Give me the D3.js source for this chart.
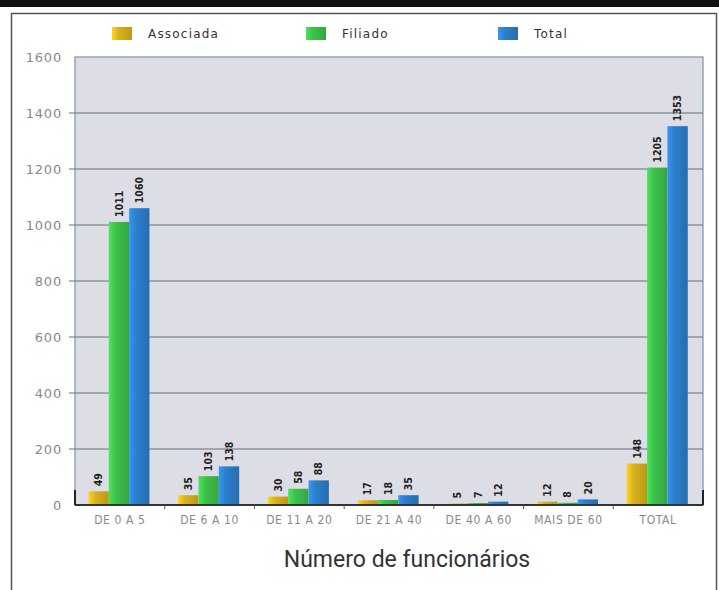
<!DOCTYPE html>
<html>
<head>
<meta charset="utf-8">
<script src="https://cdn.jsdelivr.net/npm/d3@7"></script>
<style>
  body { margin: 0; background: #fff; }
</style>
</head>
<body>
<div id="chart"></div>
<script>
// Data
var categories = ["DE 0 A 5", "DE 6 A 10", "DE 11 A 20", "DE 21 A 40", "DE 40 A 60", "MAIS DE 60", "TOTAL"];
var associada = [49, 35, 30, 17, 5, 12, 148];
var filiado = [1011, 103, 58, 18, 7, 8, 1205];
var total = [1060, 138, 88, 35, 12, 20, 1353];
var seriesNames = ["Associada", "Filiado", "Total"];
var yTicks = [0, 200, 400, 600, 800, 1000, 1200, 1400, 1600];

var seriesValues = [associada, filiado, total];
var colors = ["#d8b11d", "#3dc04b", "#2c7ecb"];

var width = 719, height = 590;
var plot = { left: 75, right: 703, top: 57, bottom: 505 };

var svg = d3.select("#chart")
    .append("svg")
    .attr("width", width)
    .attr("height", height);

// Black strip at the top and the frame round the chart
svg.append("rect").attr("x", 0).attr("y", 0).attr("width", width).attr("height", 7).attr("fill", "#111");
svg.append("path")
    .attr("d", "M11.5," + height + "V13.5H716.5V" + height)
    .attr("fill", "none")
    .attr("stroke", "#555")
    .attr("stroke-width", 1.5);

// Gradients for the slightly rounded bars
var defs = svg.append("defs");
colors.forEach(function(c, i) {
    var g = defs.append("linearGradient").attr("id", "grad" + i).attr("x1", "0%").attr("x2", "100%");
    g.append("stop").attr("offset", "0%").attr("stop-color", d3.color(c).brighter(0.5));
    g.append("stop").attr("offset", "35%").attr("stop-color", c);
    g.append("stop").attr("offset", "100%").attr("stop-color", d3.color(c).darker(0.4));
});

// Scales
var x0 = d3.scaleBand().domain(categories).range([plot.left, plot.right]);
var x1 = d3.scaleBand().domain(seriesNames).range([x0.bandwidth() * 0.15, x0.bandwidth() * 0.83]);
var y = d3.scaleLinear().domain([0, 1600]).range([plot.bottom, plot.top]);

// Plot background
svg.append("rect")
    .attr("x", plot.left)
    .attr("y", plot.top)
    .attr("width", plot.right - plot.left)
    .attr("height", plot.bottom - plot.top)
    .attr("fill", "#dcdde5")
    .attr("stroke", "#93a5b8")
    .attr("stroke-width", 1.5);

// Gridlines
svg.append("g")
    .selectAll("line")
    .data(yTicks.filter(function(d) { return d > 0 && d < 1600; }))
    .enter()
    .append("line")
    .attr("x1", plot.left - 6)
    .attr("x2", plot.right)
    .attr("y1", function(d) { return y(d); })
    .attr("y2", function(d) { return y(d); })
    .attr("stroke", "#66717c")
    .attr("stroke-width", 1.2);

// Y axis labels
svg.append("g")
    .call(d3.axisLeft(y).tickValues(yTicks).tickFormat(d3.format("d")).tickSize(0).tickPadding(0))
    .attr("transform", "translate(62,0)")
    .call(function(g) { g.select(".domain").remove(); })
    .selectAll("text")
    .attr("font-family", "DejaVu Sans, sans-serif")
    .attr("font-size", "13px")
    .attr("letter-spacing", "0.8px")
    .attr("fill", "#8a8a8a");

// Bars
var groups = svg.append("g")
    .selectAll("g")
    .data(categories)
    .enter()
    .append("g")
    .attr("transform", function(d) { return "translate(" + x0(d) + ",0)"; });

groups.selectAll("rect")
    .data(function(d, i) {
        return seriesNames.map(function(s, j) { return { key: s, idx: j, value: seriesValues[j][i] }; });
    })
    .enter()
    .append("rect")
    .attr("x", function(d) { return x1(d.key); })
    .attr("y", function(d) { return y(d.value); })
    .attr("width", x1.bandwidth())
    .attr("height", function(d) { return y(0) - y(d.value); })
    .attr("fill", function(d) { return "url(#grad" + d.idx + ")"; });

// Value labels, rotated
groups.selectAll("text")
    .data(function(d, i) {
        return seriesNames.map(function(s, j) { return { key: s, value: seriesValues[j][i] }; });
    })
    .enter()
    .append("text")
    .attr("transform", function(d) {
        return "translate(" + (x1(d.key) + x1.bandwidth() / 2) + "," + (y(d.value) - 5) + ") rotate(-90)";
    })
    .attr("dy", "0.35em")
    .attr("text-anchor", "start")
    .attr("font-family", "DejaVu Sans Condensed, DejaVu Sans, sans-serif")
    .attr("font-size", "10.5px")
    .attr("font-weight", "bold")
    .attr("fill", "#222")
    .text(function(d) { return d.value; });

// Bottom axis line with small ticks between groups
svg.append("line")
    .attr("x1", plot.left).attr("x2", plot.right)
    .attr("y1", plot.bottom).attr("y2", plot.bottom)
    .attr("stroke", "#333").attr("stroke-width", 2);
svg.append("g")
    .selectAll("line")
    .data(categories.slice(1))
    .enter()
    .append("line")
    .attr("x1", function(d) { return x0(d); })
    .attr("x2", function(d) { return x0(d); })
    .attr("y1", plot.bottom)
    .attr("y2", plot.bottom + 4)
    .attr("stroke", "#555");
[plot.left, plot.right].forEach(function(px) {
    svg.append("line")
        .attr("x1", px).attr("x2", px)
        .attr("y1", plot.bottom - 15).attr("y2", plot.bottom)
        .attr("stroke", "#222").attr("stroke-width", 2);
});

// X axis labels
svg.append("g")
    .attr("transform", "translate(0," + plot.bottom + ")")
    .call(d3.axisBottom(x0).tickSize(0).tickPadding(10))
    .call(function(g) { g.select(".domain").remove(); })
    .selectAll("text")
    .attr("font-family", "DejaVu Sans Condensed, DejaVu Sans, sans-serif")
    .attr("font-size", "12px")
    .attr("letter-spacing", "0.6px")
    .attr("fill", "#8a8a8a");

// Legend
var legendX = [112, 306, 498];
var legend = svg.append("g")
    .selectAll("g")
    .data(seriesNames)
    .enter()
    .append("g")
    .attr("transform", function(d, i) { return "translate(" + legendX[i] + ",27)"; });
legend.append("rect")
    .attr("width", 20)
    .attr("height", 13)
    .attr("fill", function(d, i) { return "url(#grad" + i + ")"; });
legend.append("text")
    .attr("x", 36)
    .attr("y", 11)
    .attr("font-family", "DejaVu Sans, sans-serif")
    .attr("font-size", "12px")
    .attr("letter-spacing", "1.2px")
    .attr("fill", "#333")
    .text(function(d) { return d; });

// Axis title
svg.append("text")
    .attr("x", 407)
    .attr("y", 567)
    .attr("text-anchor", "middle")
    .attr("font-family", "Roboto, sans-serif")
    .attr("font-size", "23px")
    .attr("fill", "#333")
    .text("Número de funcionários");
</script>
</body>
</html>
